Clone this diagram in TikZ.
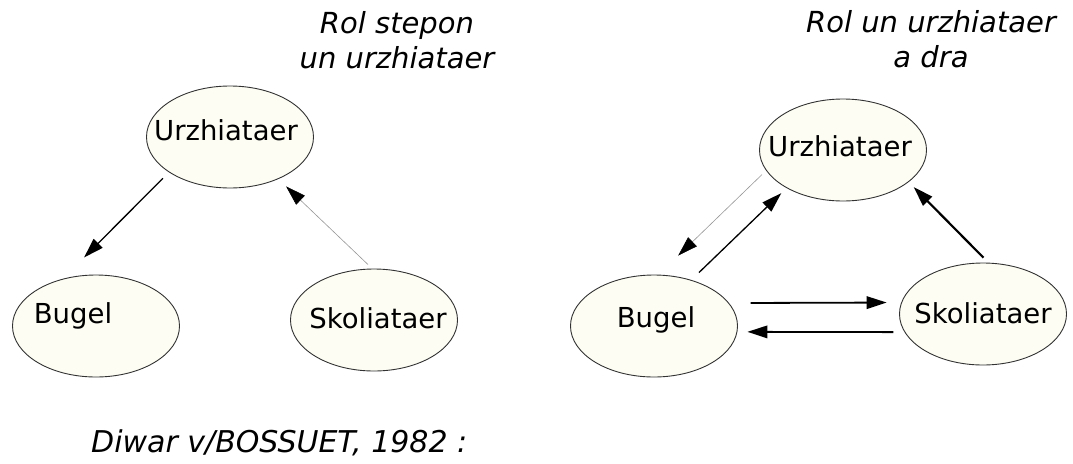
\documentclass[tikz,border=0pt]{standalone}
\usepackage{fontspec}
\setmainfont{DejaVu Sans}
\usepackage{tikz}
\usetikzlibrary{arrows.meta,calc,positioning,shapes}
\tikzset{
  role_node/.style = {ellipse, draw=my_border, line width=0.9pt, fill=my_cream,
  minimum width=167pt, minimum height=102pt, inner sep=0pt},
  role_text/.style = {inner sep=0pt, anchor=base, font=\fontsize{27.5}{33}\selectfont},
  title_text/.style = {inner sep=0pt, align=center, font=\fontsize{29}{35}\selectfont\itshape}
}
\definecolor{my_cream}{RGB}{253,253,244}
\definecolor{my_border}{RGB}{50,50,50}
\definecolor{my_grey}{RGB}{150,150,150}

\begin{document}
\begin{tikzpicture}[x=1pt, y=-1pt, >={Triangle[length=20pt,width=12.5pt]},
        arr_n/.style={->, line width=1.3pt},
        arr_thin/.style={-{Triangle[length=20pt,width=12.5pt,color=black]}, line width=0.6pt, my_grey},
        arr_thick/.style={->, line width=2.2pt},
        arr_h/.style={->, line width=1.8pt}]
        \useasboundingbox (0,0) rectangle (1073,463);
        \node [title_text, anchor=base] (titleA) at (397,68) {Rol stepon\\un urzhiataer};
        \node [role_node] (urzA) at (230,137) {};
        \node [role_node] (bugA) at (96,326) {};
        \node [role_node] (skoA) at (374,320) {};
        \node [role_text] (urzAtxt) at ([shift={(-4,3)}]urzA) {Urzhiataer};
        \node [role_text] (bugAtxt) at ([shift={(-23,-3)}]bugA) {Bugel};
        \node [role_text] (skoAtxt) at ([shift={(4,8)}]skoA) {Skoliataer};
        \draw [arr_n, shorten <=8.5pt, shorten >=30pt] (urzA.210) -- (bugA.125);
        \draw [arr_thin, shorten <=5.8pt, shorten >=10.6pt] (skoA.92) -- (urzA.319);

        \node [title_text, anchor=base] (titleB) at (931,67) {Rol un urzhiataer\\a dra};
        \node [role_node] (urzB) at (843,150) {};
        \node [role_node] (bugB) at (654,326) {};
        \node [role_node] (skoB) at (983,314) {};
        \node [role_text] (urzBtxt) at ([shift={(-3,6)}]urzB) {Urzhiataer};
        \node [role_text] (bugBtxt) at ([shift={(2,1)}]bugB) {Bugel};
        \node [role_text] (skoBtxt) at ([shift={(0,9)}]skoB) {Skoliataer};
        \draw [arr_thin, shorten <=5.8pt, shorten >=27.3pt] (urzB.195) -- (bugB.85);
        \draw [arr_n, shorten <=10.6pt, shorten >=7.3pt] (bugB.51) -- (urzB.214);
        \draw [arr_thick, shorten <=7pt, shorten >=7pt] (skoB.84) -- (urzB.334);
        \draw [arr_h, shorten <=21.5pt, shorten >=14.5pt] (bugB.17) -- (skoB.172);
        \draw [arr_h, shorten <=11pt, shorten >=10pt] (skoB.193) -- (bugB.356);

        \node [title_text, anchor=base west, font=\fontsize{30}{36}\selectfont\itshape] (source) at (91,452) {Diwar v/BOSSUET, 1982 :};
\end{tikzpicture}
\end{document}
